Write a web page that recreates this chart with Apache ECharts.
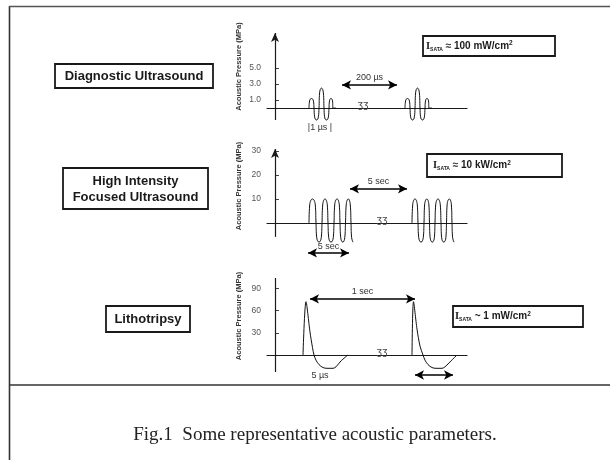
<!DOCTYPE html>
<html><head><meta charset="utf-8">
<script src="https://cdn.jsdelivr.net/npm/echarts@6/dist/echarts.min.js"></script>
<style>html,body{margin:0;padding:0;background:#fff}#c{width:610px;height:460px}</style>
</head><body><div id="c"></div>
<script>
// ---------------- data ----------------
// Panel 1: Diagnostic Ultrasound (MPa)
const diagTicks = [1, 3, 5];
const diagAxisRange = [-1.5, 9.4];
const diagBurst1X = [34, 34.6, 36.5, 38.4, 39, 39.6, 41.5, 43.4, 44, 44.6, 46.5, 48.4, 49, 49.6, 51.5, 53.4, 54, 54.5, 56, 57.5, 58, 61];
const diagBurst1Y = [0, 0.9, 1.2, 0.9, 0, -1.1, -1.5, -1.1, 0, 1.9, 2.5, 1.9, 0, -1.1, -1.5, -1.1, 0, 0.9, 1.2, 0.9, 0, 0];
const diagBurst2X = [130, 130.6, 132.5, 134.4, 135, 135.6, 137.5, 139.4, 140, 140.6, 142.5, 144.4, 145, 145.6, 147.5, 149.4, 150, 150.5, 152, 153.5, 154, 157];
const diagBurst2Y = [0, 0.9, 1.2, 0.9, 0, -1.1, -1.5, -1.1, 0, 1.9, 2.5, 1.9, 0, -1.1, -1.5, -1.1, 0, 0.9, 1.2, 0.9, 0, 0];
const diagArrow = [[67, 2.9], [122, 2.9]];
const diagNotes = [{ x: 45, y: -2.4, text: '|1 µs |' }];
const diagBreak = [88, 0];

// Panel 2: High Intensity Focused Ultrasound (MPa)
const hifuTicks = [10, 20, 30];
const hifuAxisRange = [-5.8, 30.8];
const hifuBurst1X = [34, 34.7, 37.5, 40.3, 41, 41.7, 44, 46.3, 47, 47.7, 50, 52.3, 53, 53.7, 56, 58.3, 59, 59.7, 62, 64.3, 65, 65.7, 67.8, 69.8, 70.5, 71.2, 73.3, 75.3, 76, 76.6, 78];
const hifuBurst1Y = [0, 7.5, 10, 7.5, 0, -6, -8, -6, 0, 7.5, 10, 7.5, 0, -6, -8, -6, 0, 7.5, 10, 7.5, 0, -6, -8, -6, 0, 7.5, 10, 7.5, 0, -6, -8];
const hifuBurst2X = [137, 137.7, 140, 142.3, 143, 143.7, 146, 148.3, 149, 149.6, 151.8, 153.9, 154.5, 155.1, 157.3, 159.4, 160, 160.7, 163, 165.3, 166, 166.6, 168.8, 170.9, 171.5, 172.1, 174.3, 176.4, 177, 177.6, 179];
const hifuBurst2Y = [0, 7.5, 10, 7.5, 0, -6, -8, -6, 0, 7.5, 10, 7.5, 0, -6, -8, -6, 0, 7.5, 10, 7.5, 0, -6, -8, -6, 0, 7.5, 10, 7.5, 0, -6, -8];
const hifuArrowTop = [[75, 14.2], [132, 14.2]];
const hifuArrowBottom = [[33, -12.5], [74, -12.5]];
const hifuBreak = [107, 0];

// Panel 3: Lithotripsy (MPa)
const lithoTicks = [30, 60, 90];
const lithoAxisRange = [-23, 104];
const lithoPulse1X = [28, 31, 35, 37.5, 39, 41, 44, 48, 52, 58, 61, 66, 73];
const lithoPulse1Y = [0, 72, 31, 10, 0, -7, -13, -17, -18, -18, -16, -8, 0];
const lithoPulse2X = [137, 138.5, 142, 145, 148, 150, 153, 157, 161, 167, 170, 176, 182];
const lithoPulse2Y = [0, 72, 35, 12, 0, -7, -13, -17, -18, -18, -16, -8, 0];
const lithoArrowTop = [[35, 75.7], [140, 75.7]];
const lithoArrowBottom = [[140, -27], [178, -27]];
const lithoNotes = [{ x: 45, y: -28, text: '5 µs' }];
const lithoBreak = [107, 0];

// ---------------- helpers ----------------
const SANS = '"Liberation Sans", Arial, Helvetica, sans-serif';
const SERIF = '"Liberation Serif", "Times New Roman", serif';
const INK = '#1a1a1a';
const pairs = (xs, ys) => xs.map((x, k) => [x, ys[k]]);

function yAxis(idx, min, max, ticks, fmt, namePad) {
  return {
    type: 'value', gridIndex: idx, min: min, max: max,
    axisLine: { show: false, onZero: true },
    axisTick: { show: true, inside: true, length: 4, customValues: ticks, lineStyle: { color: '#444', width: 1 } },
    axisLabel: { customValues: ticks, formatter: fmt, fontSize: 8.5, color: '#555', margin: 6, fontFamily: SANS },
    splitLine: { show: false },
    name: 'Acoustic Pressure (MPa)', nameLocation: 'middle', nameRotate: 90, nameGap: 24,
    nameTextStyle: { fontSize: 7.5, fontWeight: 'bold', color: '#333', fontFamily: SANS, padding: namePad }
  };
}
function xAxis(idx) {
  return { type: 'value', gridIndex: idx, min: -8, max: 192,
    axisLine: { show: true, onZero: true, lineStyle: { color: INK, width: 1.2 } },
    axisTick: { show: false }, axisLabel: { show: false }, splitLine: { show: false } };
}
// vertical axis line (drawn as a marker so annotations may sit below the axis end)
function axisSeg(range, arrow) {
  return [{ coord: [0, range[0]], symbol: 'none', lineStyle: { color: INK, width: 1.2, type: 'solid' }, label: { show: false } },
          { coord: [0, range[1]], symbol: arrow ? 'arrow' : 'none', symbolSize: [6, 9] }];
}
function arrowLine(seg, label, dist) {
  return [{ coord: seg[0], label: { show: !!label, formatter: label || '', position: 'insideMiddleTop', distance: dist,
      fontSize: 9, color: '#333', fontFamily: SANS } }, { coord: seg[1] }];
}
function wave(idx, xs, ys, smooth, marks) {
  const s = { type: 'line', xAxisIndex: idx, yAxisIndex: idx, data: pairs(xs, ys), symbol: 'none', smooth: smooth,
    clip: false, silent: true, lineStyle: { color: '#111', width: 1 } };
  return Object.assign(s, marks || {});
}
function marks(lines, notes, brk) {
  return {
    markLine: { silent: true, symbol: ['arrow', 'arrow'], symbolSize: [7, 9], precision: 3,
      lineStyle: { color: '#000', width: 1.6, type: 'solid' }, label: { show: false },
      emphasis: { disabled: true }, data: lines },
    markPoint: { silent: true, symbol: 'circle', symbolSize: 0,
      label: { show: true, position: 'inside', formatter: p => p.name, fontSize: 9, color: '#333', fontFamily: SANS },
      data: notes.map(n => ({ name: n.text, coord: [n.x, n.y] })).concat([
        { name: 'ʒʒ', coord: brk, label: { fontSize: 10, color: '#444', fontFamily: SANS, offset: [0, -3] } }]) }
  };
}
function intensity(x, y, value) {
  return { type: 'text', x: x, y: y, style: { text: '{i|I}{s|SATA}{t| ' + value + '}{p|2}', verticalAlign: 'middle', align: 'left',
    rich: { i: { font: 'bold 10.5px ' + SERIF, fill: INK, lineHeight: 12 }, s: { font: 'bold 5px ' + SANS, fill: INK, lineHeight: 12, verticalAlign: 'bottom' },
            t: { font: 'bold 10px ' + SANS, fill: INK, lineHeight: 12 }, p: { font: 'bold 6.5px ' + SANS, fill: INK, lineHeight: 12, verticalAlign: 'top' } } } };
}

const option = {
  animation: false,
  backgroundColor: '#fff',
  grid: [
    { left: 267, width: 200, top: 33, height: 99, outerBoundsMode: 'none' },
    { left: 267, width: 200, top: 149, height: 109, outerBoundsMode: 'none' },
    { left: 267, width: 200, top: 278, height: 104, outerBoundsMode: 'none' }
  ],
  xAxis: [xAxis(0), xAxis(1), xAxis(2)],
  yAxis: [
    yAxis(0, -3, 9.4, diagTicks, v => v.toFixed(1), [0, 0, 0, 32]),
    yAxis(1, -14.6, 30.8, hifuTicks, v => String(v), [0, 0, 0, 35]),
    yAxis(2, -36.5, 104, lithoTicks, v => String(v), [0, 0, 0, 28])
  ],
  series: [
    wave(0, diagBurst1X, diagBurst1Y, 0.5, marks([axisSeg(diagAxisRange, true), arrowLine(diagArrow, '200 µs', 3)], diagNotes, diagBreak)),
    wave(0, diagBurst2X, diagBurst2Y, 0.5),
    wave(1, hifuBurst1X, hifuBurst1Y, 0.5, marks([axisSeg(hifuAxisRange, true), arrowLine(hifuArrowTop, '5 sec', 3), arrowLine(hifuArrowBottom, '5 sec', 2)], [], hifuBreak)),
    wave(1, hifuBurst2X, hifuBurst2Y, 0.5),
    wave(2, lithoPulse1X, lithoPulse1Y, 0.3, marks([axisSeg(lithoAxisRange, false), arrowLine(lithoArrowTop, '1 sec', 3), arrowLine(lithoArrowBottom, '', 3)], lithoNotes, lithoBreak)),
    wave(2, lithoPulse2X, lithoPulse2Y, 0.3)
  ],
  graphic: [
    // frame
    { type: 'line', shape: { x1: 9.5, y1: 6, x2: 9.5, y2: 460 }, style: { stroke: '#333', lineWidth: 1.6 } },
    { type: 'line', shape: { x1: 9, y1: 6.5, x2: 610, y2: 6.5 }, style: { stroke: '#555', lineWidth: 1.6 } },
    { type: 'line', shape: { x1: 9, y1: 385, x2: 610, y2: 385 }, style: { stroke: '#333', lineWidth: 1.6 } },
    // left category boxes
    { type: 'rect', shape: { x: 55, y: 64, width: 158, height: 24 }, style: { fill: '#fff', stroke: INK, lineWidth: 1.8 } },
    { type: 'text', x: 134, y: 76.5, style: { text: 'Diagnostic Ultrasound', font: 'bold 13px ' + SANS, fill: INK, align: 'center', verticalAlign: 'middle' } },
    { type: 'rect', shape: { x: 63, y: 168, width: 145, height: 41 }, style: { fill: '#fff', stroke: INK, lineWidth: 1.8 } },
    { type: 'text', x: 135.5, y: 189, style: { text: 'High Intensity\nFocused Ultrasound', font: 'bold 13px ' + SANS, lineHeight: 16, fill: INK, align: 'center', verticalAlign: 'middle' } },
    { type: 'rect', shape: { x: 106, y: 306, width: 84, height: 26 }, style: { fill: '#fff', stroke: INK, lineWidth: 1.8 } },
    { type: 'text', x: 148, y: 319.5, style: { text: 'Lithotripsy', font: 'bold 13px ' + SANS, fill: INK, align: 'center', verticalAlign: 'middle' } },
    // intensity boxes
    { type: 'rect', shape: { x: 423, y: 36, width: 132, height: 20 }, style: { fill: '#fff', stroke: INK, lineWidth: 1.8 } },
    intensity(426, 46, '≈ 100 mW/cm'),
    { type: 'rect', shape: { x: 427, y: 154, width: 135, height: 23 }, style: { fill: '#fff', stroke: INK, lineWidth: 1.8 } },
    intensity(433, 165.5, '≈ 10 kW/cm'),
    { type: 'rect', shape: { x: 453, y: 306, width: 130, height: 21 }, style: { fill: '#fff', stroke: INK, lineWidth: 1.8 } },
    intensity(455, 316.5, '~ 1 mW/cm'),
    // caption
    { type: 'text', x: 315, y: 435, style: { text: 'Fig.1  Some representative acoustic parameters.', font: '19px ' + SERIF, fill: '#222', align: 'center', verticalAlign: 'middle' } }
  ]
};
echarts.init(document.getElementById('c'), null, { renderer: 'canvas' }).setOption(option);
</script></body></html>
